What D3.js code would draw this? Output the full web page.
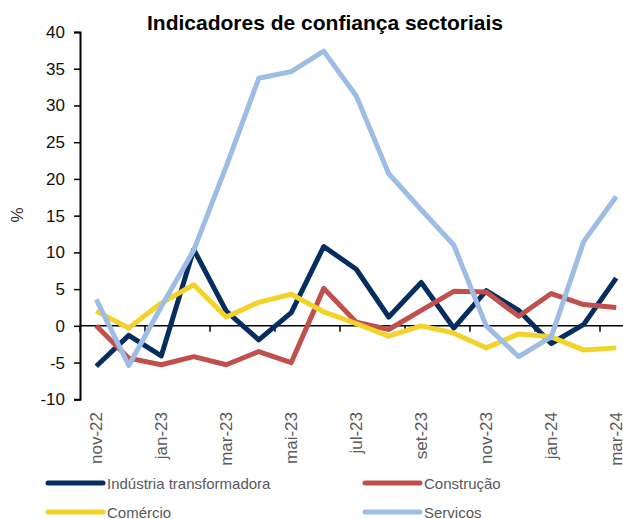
<!DOCTYPE html>
<html>
<head>
<meta charset="utf-8">
<script src="https://cdn.jsdelivr.net/npm/d3@7"></script>
<style>
 body{margin:0;background:#fff}
 text{font-family:"Liberation Sans",Arial,sans-serif}
</style>
</head>
<body>
<script>
var months = ["nov-22","dez-22","jan-23","fev-23","mar-23","abr-23","mai-23","jun-23","jul-23","ago-23","set-23","out-23","nov-23","dez-23","jan-24","fev-24","mar-24"]
var tickLabels = ["nov-22","jan-23","mar-23","mai-23","jul-23","set-23","nov-23","jan-24","mar-24"]
var yTicks = [-10,-5,0,5,10,15,20,25,30,35,40]

var industria = [-5.5,-1.3,-4.1,10.4,2.0,-1.9,1.8,10.8,7.7,1.2,5.9,-0.3,4.8,2.1,-2.4,0.2,6.5]
var construcao = [0.0,-4.4,-5.3,-4.2,-5.3,-3.5,-5.0,5.1,0.5,-0.5,2.1,4.7,4.6,1.3,4.4,2.9,2.5]
var comercio = [2.0,-0.3,3.1,5.6,1.2,3.2,4.3,1.9,0.3,-1.4,0.0,-1.0,-3.0,-1.1,-1.5,-3.3,-3.0]
var servicos = [3.6,-5.4,2.6,10.3,21.7,33.7,34.6,37.4,31.3,20.7,15.8,11.0,0.0,-4.2,-1.5,11.5,17.6]

var seriesNames = ["Indústria transformadora","Construção","Comércio","Servicos"]
var seriesColors = ["#062d5f","#c0504d","#f3d22a","#9dbde5"]
var seriesVals = [industria,construcao,comercio,servicos]

var W = 623, H = 519
var svg = d3.select("body").append("svg").attr("width",W).attr("height",H)

var x = d3.scaleBand().domain(months).range([80,632.5]).padding(0)
var y = d3.scaleLinear().domain([-10,40]).range([399.3,32])
var cx = function(m){ return x(m)+x.bandwidth()/2 }

// title
svg.append("text").attr("x",325).attr("y",30).attr("text-anchor","middle")
   .style("font-weight","bold").style("font-size","21px").attr("fill","#000")
   .text("Indicadores de confiança sectoriais")

// y axis
var yAxis = svg.append("g").attr("transform","translate(80,0)")
   .call(d3.axisLeft(y).tickValues(yTicks).tickSize(6).tickPadding(9)
   .tickFormat(function(d){return String(d)}))
yAxis.select(".domain").attr("stroke","#000").attr("stroke-width",2)
yAxis.selectAll(".tick line").attr("stroke","#000").attr("stroke-width",1.5)
yAxis.selectAll(".tick text").style("font-size","17px").attr("fill","#111")

svg.append("text").attr("transform","translate(23,215) rotate(-90)")
   .attr("text-anchor","middle").style("font-size","17px").attr("fill","#333").text("%")

// x axis at zero
var xAxis = svg.append("g").attr("transform","translate(0,"+y(0)+")")
xAxis.append("line").attr("x1",80).attr("x2",W).attr("stroke","#000").attr("stroke-width",1.5)
xAxis.selectAll("line.tk").data(months.filter(function(d,i){return i%2==0}))
   .enter().append("line").attr("class","tk")
   .attr("x1",function(d){return x(d)}).attr("x2",function(d){return x(d)})
   .attr("y1",0).attr("y2",6).attr("stroke","#000").attr("stroke-width",1.5)

// rotated month labels
svg.selectAll("text.xl").data(tickLabels).enter().append("text").attr("class","xl")
   .attr("transform",function(d){return "translate("+(cx(d)+6)+",412) rotate(-90)"})
   .attr("text-anchor","end").style("font-size","17px").attr("fill","#595959")
   .text(function(d){return d})

// lines
var line = d3.line().x(function(d,i){return cx(months[i])}).y(function(d){return y(d)})
seriesVals.forEach(function(vals,k){
  svg.append("path").datum(vals).attr("d",line).attr("fill","none")
     .attr("stroke",seriesColors[k]).attr("stroke-width",5)
     .attr("stroke-linejoin","round").attr("stroke-linecap","butt")
})

// legend
var legX = [48,365], legY = [483,512]
seriesNames.forEach(function(n,k){
  var lx = legX[k%2], ly = legY[Math.floor(k/2)]
  svg.append("line").attr("x1",lx).attr("x2",lx+55).attr("y1",ly).attr("y2",ly)
     .attr("stroke",seriesColors[k]).attr("stroke-width",5).attr("stroke-linecap","round")
  svg.append("text").attr("x",lx+59).attr("y",ly+6).style("font-size","15px")
     .attr("fill","#595959").text(n)
})
</script>
</body>
</html>
